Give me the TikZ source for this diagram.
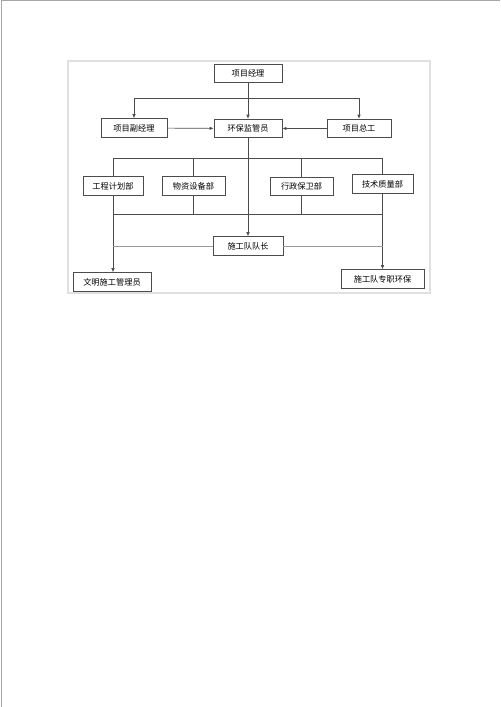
\documentclass[tikz,border=0pt]{standalone}
\usepackage{fontspec}
\newfontfamily\cjk{Noto Sans CJK SC}
\usetikzlibrary{arrows.meta}

\tikzset{
  box/.style={draw=black!70, line width=0.6pt, fill=white, inner sep=0pt,
    minimum height=0.56cm, font=\cjk\fontsize{7}{8}\selectfont},
  link/.style={draw=black!70, line width=0.55pt},
  arr/.style={link, -{Latex[length=3.5pt,width=3pt]}},
}

\begin{document}
\begin{tikzpicture}[x=0.03cm, y=-0.03cm]
    \useasboundingbox (0,0) rectangle (500,707);
    \draw[black!35, line width=0.8pt] (1,707) -- (1,0.5) -- (500,0.5);
    \draw[black!12, line width=0.9pt] (68,61) rectangle (430,293);
    % boxes
    \foreach \n/\x/\y/\w/\t in {
        pm/248/73.5/2.04/项目经理,
        fu/134/128/1.98/项目副经理,
        hb/248/128.5/2.04/环保监管员,
        zg/359/128.5/1.92/项目总工,
        gc/113/186/1.80/工程计划部,
        wz/193.5/186/1.89/物资设备部,
        xz/301.5/186.5/1.89/行政保卫部,
        js/382.5/184/1.83/技术质量部,
        dz/248/246/2.10/施工队队长,
        wm/112/282/2.34/文明施工管理员,
        zz/382.5/279/2.49/施工队专职环保} {
        \node[box, minimum width=\w cm] (\n) at (\x,\y) {\t};
      }
    \coordinate (t1) at (248,98);
    \coordinate (b1) at (0,158);
    \coordinate (b2) at (0,214);
    % top level
    \draw[arr] (pm) -- (hb);
    \draw[arr] (t1) -| (fu.north);
    \draw[arr] (t1) -| (zg.north);
    \draw[arr] (fu) -- (hb);
    \draw[arr] (zg) -- (hb);
    \draw[arr] (hb) -- (dz);
    % departments
    \draw[link] (gc.north) -- (gc.north |- b1) -- (js.north |- b1) -- (js.north);
    \draw[link] (gc.south |- b2) -- (js.south |- b2);
    \foreach \n in {wz,xz} {
        \draw[link] (\n.north) -- (\n.north |- b1);
        \draw[link] (\n.south) -- (\n.south |- b2);
      }
    \draw[arr] (gc.south) -- (gc.south |- wm.north);
    \draw[arr] (js.south) -- (js.south |- zz.north);
    \draw[black!40, line width=0.5pt] (gc.south |- dz.west) -- (dz.west);
    \draw[black!40, line width=0.5pt] (dz.east) -- (js.south |- dz.east);
  \end{tikzpicture}
\end{document}
